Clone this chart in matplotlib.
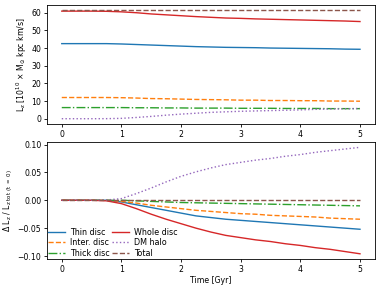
import numpy as np
import matplotlib
matplotlib.use('Agg')
import matplotlib.pyplot as plt

plt.rcParams['font.size'] = 5.6
plt.rcParams['mathtext.default'] = 'regular'
plt.rcParams['xtick.major.size'] = 2.5
plt.rcParams['ytick.major.size'] = 2.5
plt.rcParams['xtick.major.width'] = 0.6
plt.rcParams['ytick.major.width'] = 0.6
plt.rcParams['xtick.major.pad'] = 2
plt.rcParams['ytick.major.pad'] = 1.5
plt.rcParams['axes.linewidth'] = 0.6

# tiempo [Gyr]
t = [0, 0.25, 0.5, 0.75, 1.0, 1.25, 1.5, 1.75, 2.0, 2.25, 2.5,
     2.75, 3.0, 3.25, 3.5, 3.75, 4.0, 4.25, 4.5, 4.75, 5.0]

# panel superior: L_z [1e10 Msun kpc km/s]
lz_thin = [42.5, 42.5, 42.5, 42.5, 42.3, 42.0, 41.7, 41.4, 41.1, 40.8, 40.6,
           40.4, 40.3, 40.2, 40.0, 39.9, 39.8, 39.7, 39.6, 39.4, 39.3]
lz_inter = [12.0, 12.0, 12.0, 12.0, 11.9, 11.7, 11.4, 11.3, 11.1, 10.9, 10.8,
            10.7, 10.5, 10.5, 10.3, 10.3, 10.2, 10.2, 10.0, 10.0, 9.9]
lz_thick = [6.3, 6.3, 6.3, 6.3, 6.3, 6.2, 6.2, 6.1, 6.1, 6.0, 6.0,
            6.0, 5.9, 5.9, 5.9, 5.8, 5.8, 5.8, 5.7, 5.7, 5.7]
lz_whole = [60.9, 60.9, 60.9, 60.8, 60.5, 60.0, 59.3, 58.8, 58.3, 57.8, 57.4,
            57.0, 56.8, 56.5, 56.3, 56.1, 55.9, 55.7, 55.5, 55.3, 55.0]
lz_halo = [0.0, 0.0, 0.0, 0.03, 0.2, 0.7, 1.3, 2.0, 2.6, 3.1, 3.6,
           3.9, 4.2, 4.4, 4.6, 4.8, 5.0, 5.3, 5.5, 5.6, 5.8]
lz_total = [61.3, 61.3, 61.3, 61.3, 61.3, 61.3, 61.3, 61.3, 61.3, 61.3, 61.3,
            61.3, 61.3, 61.3, 61.3, 61.3, 61.3, 61.3, 61.3, 61.3, 61.3]

# panel inferior: delta L_z / L_z tot (t=0)
d_thin = [0, 0, 0, 0, -0.003, -0.008, -0.013, -0.018, -0.023, -0.028, -0.031,
          -0.034, -0.036, -0.038, -0.040, -0.042, -0.044, -0.046, -0.048, -0.050, -0.052]
d_inter = [0, 0, 0, 0, -0.002, -0.005, -0.009, -0.012, -0.015, -0.018, -0.020,
           -0.022, -0.024, -0.025, -0.027, -0.028, -0.029, -0.030, -0.032, -0.033, -0.034]
d_thick = [0, 0, 0, 0, 0, -0.001, -0.002, -0.003, -0.004, -0.0045, -0.005,
           -0.0055, -0.006, -0.0065, -0.007, -0.0075, -0.008, -0.0085, -0.009, -0.0095, -0.010]
d_whole = [0, 0, 0, -0.001, -0.006, -0.015, -0.025, -0.034, -0.042, -0.050, -0.057,
           -0.063, -0.067, -0.071, -0.074, -0.078, -0.081, -0.085, -0.088, -0.092, -0.096]
d_halo = [0, 0, 0, 0.0005, 0.003, 0.012, 0.022, 0.033, 0.043, 0.051, 0.058,
          0.064, 0.068, 0.072, 0.075, 0.079, 0.082, 0.086, 0.089, 0.092, 0.095]
d_total = [0, 0, 0, 0, 0, 0, 0, 0, 0, 0, 0,
           0, 0, 0, 0, 0, 0, 0, 0, 0, 0]

etiquetas = ['Thin disc', 'Inter. disc', 'Thick disc', 'Whole disc', 'DM halo', 'Total']
estilos = [('C0', '-'), ('C1', '--'), ('C2', '-.'), ('C3', '-'), ('C4', ':'), ('C5', '--')]

fig = plt.figure(figsize=(3.81, 2.86), dpi=100)
ax1 = fig.add_axes([0.123, 0.566, 0.861, 0.4165])
ax2 = fig.add_axes([0.123, 0.094, 0.861, 0.4095])

for y, lab, (c, ls) in zip([lz_thin, lz_inter, lz_thick, lz_whole, lz_halo, lz_total],
                           etiquetas, estilos):
    ax1.plot(t, y, color=c, ls=ls, lw=1, label=lab)

for y, lab, (c, ls) in zip([d_thin, d_inter, d_thick, d_whole, d_halo, d_total],
                           etiquetas, estilos):
    ax2.plot(t, y, color=c, ls=ls, lw=1, label=lab)

ax1.set_ylabel(r'L$_z$ [10$^{10}$ × M$_{\odot}$ kpc km/s]', labelpad=2)
ax2.set_ylabel(r'$\Delta$ L$_z$ / L$_{z\ tot\ (t\ =\ 0)}$', labelpad=2)
ax2.set_xlabel('Time [Gyr]', labelpad=1)
ax1.set_yticks([0, 10, 20, 30, 40, 50, 60])
ax2.set_yticks([-0.10, -0.05, 0.0, 0.05, 0.10])

ax2.legend(loc='lower left', ncol=2, frameon=False, borderaxespad=0,
           borderpad=0.2, columnspacing=0.3, handletextpad=0.7,
           labelspacing=0.15, handlelength=2, fontsize=5.8)

fig.savefig('out.png', dpi=100)
